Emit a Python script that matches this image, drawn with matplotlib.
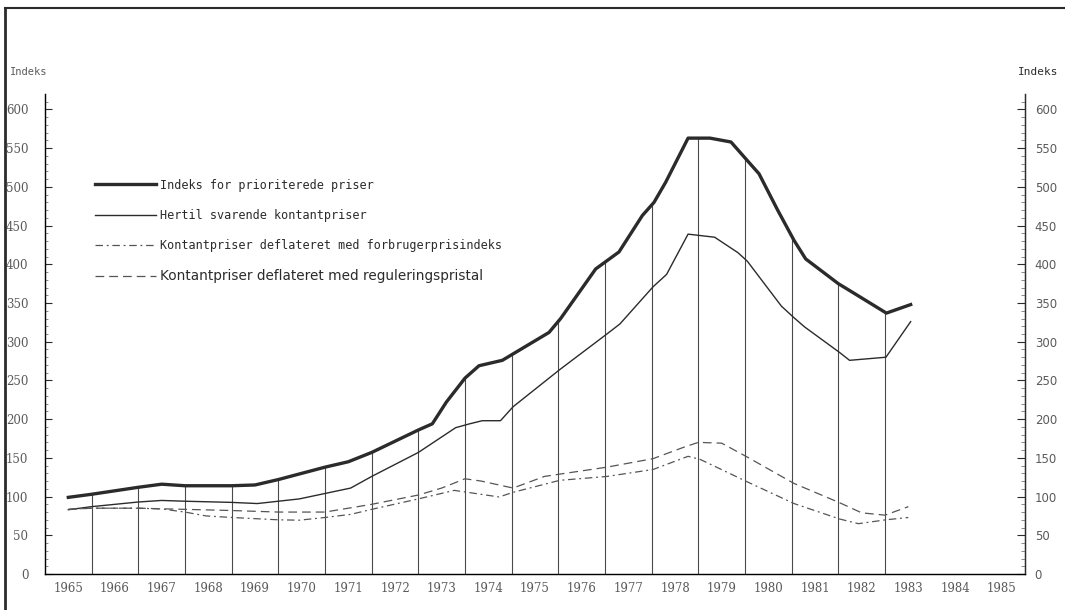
import numpy as np
import matplotlib.pyplot as plt
from matplotlib.lines import Line2D

# --------- data (x in fractional years) ---------
prior_x = [1965.5, 1966.0, 1967.0, 1967.5, 1968.0, 1969.0, 1969.5, 1970.0, 1971.0, 1971.5,
           1972.0, 1973.0, 1973.3, 1973.6, 1974.0, 1974.3, 1974.8, 1975.05, 1975.8, 1976.05,
           1976.8, 1977.3, 1977.8, 1978.05, 1978.3, 1978.78, 1979.25, 1979.7, 1980.05, 1980.3,
           1980.7, 1981.05, 1981.3, 1982.0, 1982.3, 1983.03, 1983.55]
prior_y = [99, 103, 112, 116, 114, 114, 115, 122, 138, 145,
           157, 186, 194, 222, 253, 269, 276, 285, 312, 330,
           394, 416, 463, 480, 506, 563, 563, 558, 534, 517,
           470, 431, 407, 375, 364, 337, 348]

kontant_x = [1965.5, 1966.0, 1967.0, 1967.5, 1968.0, 1969.0, 1969.55, 1970.0, 1970.45, 1971.0,
             1971.55, 1972.0, 1973.0, 1973.8, 1974.1, 1974.37, 1974.76, 1975.03, 1976.03, 1977.04,
             1977.32, 1978.03, 1978.32, 1978.78, 1979.35, 1979.85, 1980.05, 1980.78, 1981.05, 1981.28,
             1982.03, 1982.24, 1983.02, 1983.55]
kontant_y = [83, 87, 93, 95, 94, 92.5, 91, 94, 97, 104,
             111, 126, 157, 189, 194, 198, 198, 216, 264, 310,
             323, 371, 387, 439, 435, 415, 404, 346, 331, 319,
             286, 276, 280, 326]

cpi_x = [1965.5, 1966.0, 1967.0, 1967.5, 1968.0, 1968.45, 1969.0, 1970.0, 1970.45, 1971.0,
         1971.55, 1972.0, 1973.0, 1973.77, 1974.0, 1974.73, 1975.03, 1976.03, 1977.04, 1978.03,
         1978.78, 1979.04, 1980.05, 1981.05, 1982.03, 1982.43, 1983.02, 1983.5]
cpi_y = [83.5, 85, 85, 84, 80, 75, 73, 70, 69.5, 73,
         77, 83.5, 97, 108, 106, 99.5, 105.5, 121, 126, 135,
         152, 148, 119, 91, 71, 65, 70, 73]

reg_x = [1965.5, 1966.0, 1967.0, 1968.0, 1969.0, 1970.0, 1971.0, 1972.0, 1973.0, 1973.5,
         1974.0, 1974.35, 1975.03, 1975.7, 1976.03, 1977.04, 1978.03, 1978.7, 1979.0, 1979.5,
         1980.05, 1981.05, 1982.03, 1982.5, 1983.0, 1983.5]
reg_y = [83.5, 85, 85, 83.5, 82, 80, 80, 90, 102, 111,
         123, 120, 111, 126, 129, 138, 149, 164, 170, 169,
         151, 117, 92, 79, 76, 87]

years = list(range(1965, 1986))
drop_years = list(range(1966, 1984))   # vertical lines at the year boundaries
y_ticks = list(range(0, 601, 50))

labels = ["Indeks for prioriterede priser",
          "Hertil svarende kontantpriser",
          "Kontantpriser deflateret med forbrugerprisindeks",
          "Kontantpriser deflateret med reguleringspristal"]

ink = "#2b2b2b"
grey = "#5a5a5a"

fig = plt.figure(figsize=(10.65, 6.10), dpi=100)
ax = fig.add_axes([45 / 1065, 36 / 610, 980 / 1065, 480 / 610])

# frame of the scanned page (left and top edge)
fig.add_artist(Line2D([0.005, 0.005], [0, 0.987], transform=fig.transFigure, color=ink, lw=2))
fig.add_artist(Line2D([0.005, 1.0], [0.987, 0.987], transform=fig.transFigure, color=ink, lw=1.5))

# vertical drop lines from the axis up to the main index
drop_top = np.interp(drop_years, prior_x, prior_y)
ax.vlines(drop_years, 0, drop_top, color="#4a4a4a", lw=0.8)

ax.plot(prior_x, prior_y, color=ink, lw=2.4, solid_joinstyle="round")
ax.plot(kontant_x, kontant_y, color=ink, lw=1.0)
ax.plot(cpi_x, cpi_y, color="#555", lw=0.9, ls=(0, (6, 3, 1.5, 3)))
ax.plot(reg_x, reg_y, color="#555", lw=0.9, ls=(0, (7, 4)))

ax.set_xlim(1965, 1986)
ax.set_ylim(0, 620)

ax.spines["top"].set_visible(False)
for side in ["left", "right", "bottom"]:
    ax.spines[side].set_color(ink)
    ax.spines[side].set_linewidth(1.0)
ax.spines["bottom"].set_linestyle((0, (8, 1)))

# x labels centred in each year interval
ax.set_xticks([y + 0.5 for y in years])
ax.set_xticklabels([str(y) for y in years], fontfamily="DejaVu Serif", fontsize=8.5, color=grey)
ax.tick_params(axis="x", length=0, pad=6)

# left axis
ax.set_yticks(y_ticks)
ax.set_yticklabels([str(v) for v in y_ticks], fontfamily="DejaVu Serif", fontsize=8.5, color=grey)
ax.set_yticks(range(0, 611, 10), minor=True)
ax.tick_params(axis="y", which="major", direction="in", length=5, color=ink, pad=12)
ax.tick_params(axis="y", which="minor", direction="in", length=2, color="#777")

# right axis
ax2 = ax.twinx()
ax2.set_ylim(ax.get_ylim())
ax2.spines["top"].set_visible(False)
ax2.spines["right"].set_color(ink)
ax2.set_yticks(y_ticks)
ax2.set_yticklabels([str(v) for v in y_ticks], fontfamily="DejaVu Sans", fontsize=8.5, color=grey)
ax2.set_yticks(range(0, 611, 10), minor=True)
ax2.tick_params(axis="y", which="major", direction="in", length=6, color=ink, pad=7)
ax2.tick_params(axis="y", which="minor", direction="in", length=3, color="#777")

fig.text(10 / 1065, 1 - 72 / 610, "Indeks", fontfamily="DejaVu Sans Mono", fontsize=7.5,
         color=grey, va="center")
fig.text(1018 / 1065, 1 - 72 / 610, "Indeks", fontfamily="DejaVu Sans Mono", fontsize=8,
         color=ink, va="center")

# legend
handles = [Line2D([], [], color=ink, lw=2.4),
           Line2D([], [], color=ink, lw=1.0),
           Line2D([], [], color="#555", lw=0.9, ls=(0, (6, 3, 1.5, 3))),
           Line2D([], [], color="#555", lw=0.9, ls=(0, (7, 4)))]
leg = ax.legend(handles, labels, loc="upper left", bbox_to_anchor=(0.04, 0.846), frameon=False,
                handlelength=5.2, handletextpad=0.3, labelspacing=1.45,
                prop={"family": "DejaVu Sans Mono", "size": 8.5})
for t in leg.get_texts()[:3]:
    t.set_color(ink)
leg.get_texts()[3].set_fontfamily("DejaVu Sans")
leg.get_texts()[3].set_fontsize(9.8)
leg.get_texts()[3].set_color(ink)

fig.savefig("out.png", dpi=100)
